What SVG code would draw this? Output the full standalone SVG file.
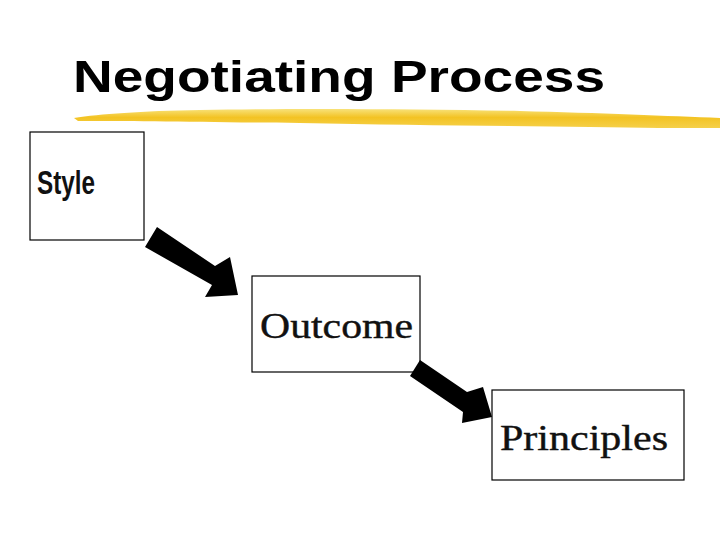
<svg xmlns="http://www.w3.org/2000/svg" width="720" height="540" viewBox="0 0 720 540">
<style>
.box{fill:#fff;stroke:#000;stroke-width:1.2}
.arrow{fill:#000}
.ser{font-family:"Liberation Serif",serif;fill:#111;stroke:#111;stroke-width:0.4}
</style>
<defs>
<linearGradient id="brush" x1="0" y1="0" x2="0" y2="1">
<stop offset="0" stop-color="#f8e27a"/>
<stop offset="0.45" stop-color="#f3c323"/>
<stop offset="1" stop-color="#f5d04a"/>
</linearGradient>
</defs>
<rect width="720" height="540" fill="#fff"/>
<text x="73" y="92" font-family="Liberation Sans,Arial,sans-serif" font-weight="bold" font-size="44" textLength="532" lengthAdjust="spacingAndGlyphs" fill="#000">Negotiating Process</text>
<path d="M74 118 C100 114 140 111 200 110 C300 108 420 109 520 111 C600 113 670 116 720 118 L720 128 C680 128 640 128 590 127 C500 126 400 125 300 123 C200 122 130 121 78 121 Z" fill="url(#brush)"/>
<g id="style"><rect class="box" x="30" y="132" width="114" height="108"/><text x="37" y="194" font-family="Liberation Sans Narrow,Liberation Sans,sans-serif" font-weight="bold" font-size="33" textLength="58" lengthAdjust="spacingAndGlyphs" fill="#111">Style</text></g>
<g id="outcome"><rect class="box" x="252" y="276" width="168" height="96"/><text class="ser" x="260" y="338" font-size="35" textLength="153" lengthAdjust="spacingAndGlyphs">Outcome</text></g>
<g id="principles"><rect class="box" x="492" y="390" width="192" height="90"/><text class="ser" x="500" y="450" font-size="35" textLength="168" lengthAdjust="spacingAndGlyphs">Principles</text></g>
<g id="connectors">
<polygon class="arrow" points="145,247 157,227 215,266 230,257 238,295 205,297 212,285"/>
<polygon class="arrow" points="410,376 420,360 467,392 483,387 492,417 462,423 463,412"/>
</g>
</svg>
